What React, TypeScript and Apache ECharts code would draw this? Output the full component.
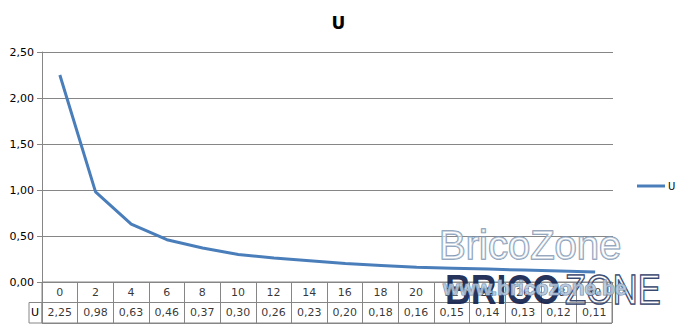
import React, { useEffect, useRef } from "react";
import * as echarts from "echarts";

const categories: string[] = ["0", "2", "4", "6", "8", "10", "12", "14", "16", "18", "20", "22", "24", "26", "28", "30"];
const uValues: number[] = [2.25, 0.98, 0.63, 0.46, 0.37, 0.3, 0.26, 0.23, 0.2, 0.18, 0.16, 0.15, 0.14, 0.13, 0.12, 0.11];
const yTicks = { min: 0, max: 2.5, interval: 0.5 };
const seriesName = "U";
const tableRows = ["U", "head"];

const fmt = (v: number) => v.toFixed(2).replace(".", ",");

export default function App() {
  const ref = useRef<HTMLDivElement>(null);
  useEffect(() => {
    if (!ref.current) return;
    const chart = echarts.init(ref.current, null, { renderer: "svg" });
    const font = "DejaVu Sans";
    const gray = "#868686";
    const option: any = {
      animation: false,
      backgroundColor: "#ffffff",
      textStyle: { fontFamily: font },
      title: {
        text: seriesName,
        left: "center",
        top: 9,
        textStyle: { fontFamily: font, fontSize: 17, fontWeight: "bold", color: "#000" },
      },
      legend: {
        data: [seriesName],
        left: 632,
        top: 176,
        icon: "rect",
        itemWidth: 28,
        itemHeight: 3,
        itemGap: 4,
        textStyle: { fontFamily: font, fontSize: 10, color: "#000", padding: [0, 0, 0, -2] },
      },
      grid: [
        { left: 42, top: 52, width: 571, height: 230, containLabel: false },
        { left: 42, top: 282, width: 570, height: 41, show: true, borderColor: gray, borderWidth: 1, containLabel: false },
      ],
      xAxis: [
        {
          type: "category",
          gridIndex: 0,
          data: categories,
          boundaryGap: true,
          axisLine: { show: true, lineStyle: { color: gray } },
          axisTick: { show: false },
          axisLabel: { show: false },
          splitLine: { show: false },
        },
        {
          type: "category",
          gridIndex: 1,
          data: categories,
          boundaryGap: true,
          axisLine: { show: false },
          axisTick: { show: false },
          axisLabel: { show: false },
          splitLine: { show: true, lineStyle: { color: gray, width: 1 } },
        },
      ],
      yAxis: [
        {
          type: "value",
          gridIndex: 0,
          min: yTicks.min,
          max: yTicks.max,
          interval: yTicks.interval,
          axisLine: { show: true, lineStyle: { color: gray } },
          axisTick: { show: true, length: 5, lineStyle: { color: gray } },
          axisLabel: { formatter: (v: number) => fmt(v), fontSize: 11, color: "#000", fontFamily: font, margin: 8 },
          splitLine: { show: true, lineStyle: { color: gray, width: 1 } },
        },
        {
          type: "category",
          gridIndex: 1,
          data: tableRows,
          boundaryGap: true,
          axisLine: { show: true, lineStyle: { color: gray } },
          axisTick: { show: false },
          axisLabel: {
            formatter: (v: string) => (v === "head" ? "" : v),
            fontSize: 11,
            color: "#000",
            fontFamily: font,
            margin: 3,
          },
          splitLine: { show: true, lineStyle: { color: gray, width: 1 } },
        },
      ],
      series: [
        {
          name: seriesName,
          type: "line",
          xAxisIndex: 0,
          yAxisIndex: 0,
          data: uValues,
          symbol: "none",
          lineStyle: { color: "#4a7ebb", width: 3 },
          itemStyle: { color: "#4a7ebb" },
          z: 3,
        },
        {
          name: "head",
          type: "scatter",
          xAxisIndex: 1,
          yAxisIndex: 1,
          symbolSize: 0,
          data: categories.map((c) => [c, "head"]),
          label: {
            show: true,
            position: "inside",
            formatter: (p: any) => p.value[0],
            fontSize: 11,
            color: "#000",
            fontFamily: font,
          },
          silent: true,
        },
        {
          name: "vals",
          type: "scatter",
          xAxisIndex: 1,
          yAxisIndex: 1,
          symbolSize: 0,
          data: categories.map((c, i) => [c, "U", uValues[i]]),
          label: {
            show: true,
            position: "inside",
            formatter: (p: any) => fmt(p.value[2]),
            fontSize: 11,
            color: "#000",
            fontFamily: font,
          },
          silent: true,
        },
      ],
      graphic: [
        {
          type: "rect",
          shape: { x: 29, y: 302.5, width: 13, height: 20.5 },
          style: { fill: "none", stroke: gray, lineWidth: 1 },
          silent: true,
        },
        {
          type: "text",
          x: 439,
          y: 225,
          z: 10,
          style: {
            text: "BricoZone",
            font: "normal 40px 'Liberation Sans'",
            fill: "rgba(255,255,255,0.5)",
            stroke: "#7f98b4",
            lineWidth: 1.5,
          },
          silent: true,
        },
        {
          type: "text",
          x: 445,
          y: 268,
          scaleX: 0.85,
          z: 10,
          style: {
            text: "BRICO",
            font: "bold 42px 'Liberation Sans'",
            fill: "rgba(24,38,80,0.95)",
          },
          silent: true,
        },
        {
          type: "text",
          x: 565,
          y: 268,
          scaleX: 0.82,
          z: 10,
          style: {
            text: "ZONE",
            font: "normal 42px 'Liberation Sans'",
            fill: "rgba(255,255,255,0.2)",
            stroke: "#2c3c66",
            lineWidth: 1.5,
          },
          silent: true,
        },
        {
          type: "text",
          x: 443,
          y: 277,
          z: 11,
          style: {
            text: "www.bricozone.be",
            font: "bold 21px 'Liberation Sans'",
            fill: "rgba(180,198,218,0.85)",
            stroke: "#6f88a6",
            lineWidth: 1,
          },
          silent: true,
        },
      ],
    };
    chart.setOption(option);
    return () => chart.dispose();
  }, []);
  return <div ref={ref} style={{ width: 677, height: 327, position: "absolute", left: 0, top: 0 }} />;
}
